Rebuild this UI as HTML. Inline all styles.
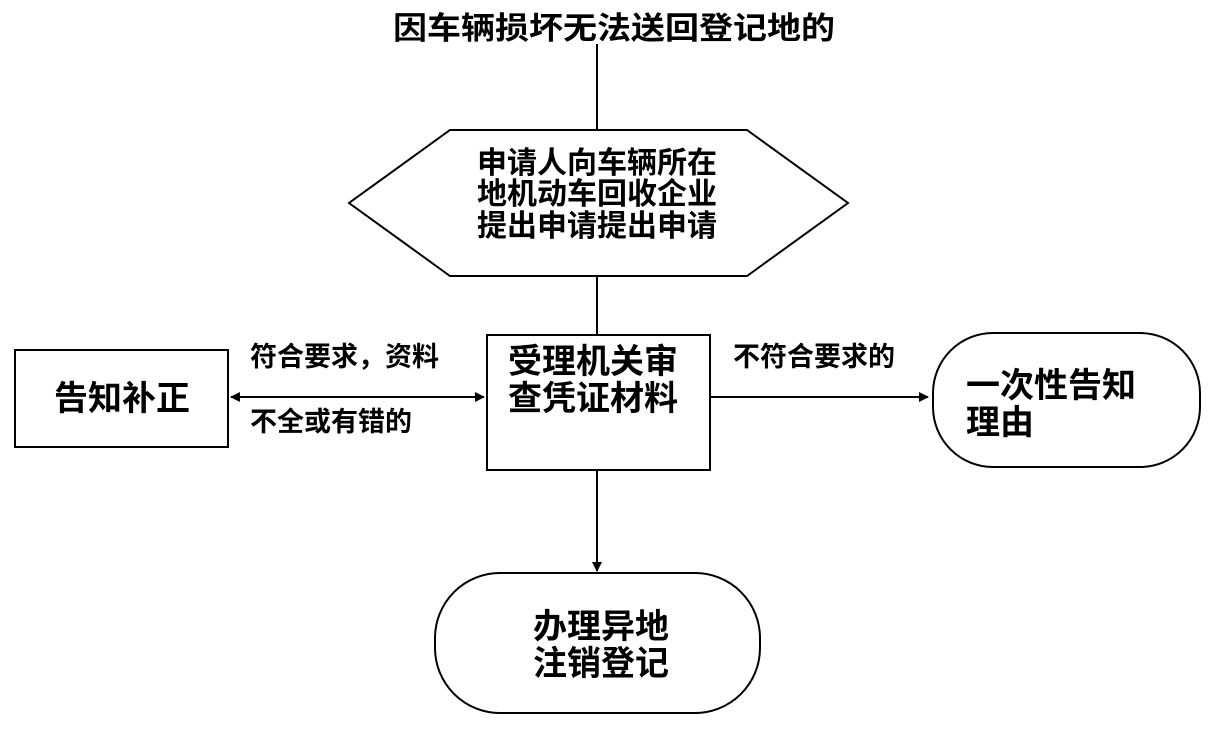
<!DOCTYPE html>
<html><head><meta charset="utf-8"><style>
body{margin:0;background:#fff;}
svg text{font-family:"Liberation Sans","Noto Sans CJK SC",sans-serif;font-weight:bold;fill:#000;}
</style></head><body>
<svg width="1220" height="725" viewBox="0 0 1220 725" xmlns="http://www.w3.org/2000/svg">
<defs><marker id="a" markerWidth="10" markerHeight="10" refX="9" refY="5" orient="auto-start-reverse" markerUnits="userSpaceOnUse"><path d="M0,0 L10,5 L0,10 z" fill="#000"/></marker></defs>
<g stroke="#000" stroke-width="2" fill="none">
<line x1="597" y1="44" x2="597" y2="130"/>
<polygon points="450,130 747,130 848,203 747,276 450,276 349,203" fill="#fff"/>
<line x1="597" y1="276" x2="597" y2="335"/>
<rect x="487" y="335" width="223" height="135" fill="#fff"/>
<rect x="15" y="350" width="213" height="97" fill="#fff"/>
<line x1="231" y1="397" x2="484" y2="397" marker-start="url(#a)" marker-end="url(#a)"/>
<line x1="710" y1="397" x2="928" y2="397" marker-end="url(#a)"/>
<rect x="933" y="333" width="267" height="134" rx="60" fill="#fff"/>
<line x1="597" y1="470" x2="597" y2="571" marker-end="url(#a)"/>
<rect x="435" y="573" width="325" height="140" rx="65" fill="#fff"/>
</g>
<text x="393" y="39" font-size="31" textLength="442" lengthAdjust="spacingAndGlyphs">因车辆损坏无法送回登记地的</text>
<g font-size="30">
<text x="477" y="173">申请人向车辆所在</text>
<text x="477" y="204">地机动车回收企业</text>
<text x="477" y="236">提出申请提出申请</text>
</g>
<g font-size="34">
<text x="54" y="410">告知补正</text>
<text x="508" y="373">受理机关审</text>
<text x="508" y="410">查凭证材料</text>
<text x="966" y="397">一次性告知</text>
<text x="966" y="434">理由</text>
<text x="533" y="638">办理异地</text>
<text x="533" y="675">注销登记</text>
</g>
<g font-size="27">
<text x="250" y="366">符合要求，资料</text>
<text x="250" y="431">不全或有错的</text>
<text x="733" y="366">不符合要求的</text>
</g>
</svg>
</body></html>
